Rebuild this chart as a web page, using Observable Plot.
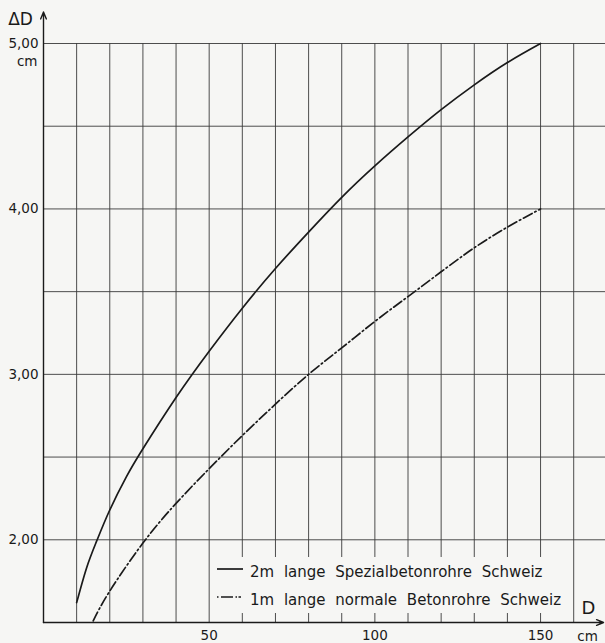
<!DOCTYPE html>
<html><head><meta charset="utf-8">
<script src="https://cdn.jsdelivr.net/npm/d3@7"></script>
<script src="https://cdn.jsdelivr.net/npm/@observablehq/plot@0.6"></script>
<style>
html,body{margin:0;padding:0;background:#f6f6f4;}
#wrap{position:relative;width:605px;height:643px;font-family:"DejaVu Sans",sans-serif;color:#1a1a1a;}
#legend{position:absolute;left:214px;top:557px;width:352px;height:56px;background:#f6f6f4;}
.row{position:absolute;left:3px;height:20px;display:flex;align-items:center;font-size:15px;word-spacing:5px;white-space:nowrap;}
.row svg{margin-right:7px;position:relative;top:-3px;}
</style></head><body><div id="wrap"></div>
<script>
// Series: 2 m Spezialbetonrohre (solid)
const solidD  = [10, 13, 16, 20, 25, 30, 40, 50, 60, 70, 80, 90, 100, 110, 120, 130, 140, 150];
const solidDD = [1.62, 1.83, 1.99, 2.18, 2.38, 2.55, 2.86, 3.14, 3.40, 3.64, 3.86, 4.07, 4.26, 4.435, 4.60, 4.75, 4.885, 5.00];
// Series: 1 m normale Betonrohre (dash-dot)
const dashD  = [15, 20, 30, 40, 50, 60, 70, 80, 90, 100, 110, 120, 130, 140, 150];
const dashDD = [1.51, 1.69, 1.98, 2.22, 2.43, 2.63, 2.82, 3.00, 3.16, 3.32, 3.47, 3.62, 3.765, 3.89, 4.00];

const seriesNames = ["2m lange Spezialbetonrohre Schweiz", "1m lange normale Betonrohre Schweiz"];

const xGrid = [10, 20, 30, 40, 50, 60, 70, 80, 90, 100, 110, 120, 130, 140, 150, 160];
const yGrid = [2.0, 2.5, 3.0, 3.5, 4.0, 4.5, 5.0];
const xTickValues = [50, 100, 150];
const xTickLabels = ["50", "100", "150"];
const yTickValues = [2, 3, 4, 5];
const yTickLabels = ["2,00", "3,00", "4,00", "5,00"];
const xDomain = [0, 169.6];
const yDomain = [1.5, 5.0];
const xAxisEnd = 169;
const yAxisTop = 5.19;

const solid = solidD.map((d, i) => ({D: d, dD: solidDD[i]}));
const dash = dashD.map((d, i) => ({D: d, dD: dashDD[i]}));
const ink = "#1a1a1a";
const dashPattern = "10,3,1.5,3";

const chart = Plot.plot({
  width: 605, height: 643,
  marginLeft: 43, marginRight: 0, marginTop: 43, marginBottom: 21,
  x: {domain: xDomain, axis: null},
  y: {domain: yDomain, axis: null},
  style: {background: "transparent", fontFamily: "DejaVu Sans, sans-serif", overflow: "visible", color: ink},
  marks: [
    Plot.ruleX(xGrid, {x: d => d, y1: yDomain[0], y2: yDomain[1], stroke: "#3a3a3a", strokeWidth: 0.9}),
    Plot.ruleY(yGrid, {y: d => d, stroke: "#3a3a3a", strokeWidth: 0.9}),
    Plot.line(solid, {x: "D", y: "dD", curve: "natural", stroke: ink, strokeWidth: 1.7}),
    Plot.line(dash, {x: "D", y: "dD", curve: "natural", stroke: ink, strokeWidth: 1.7, strokeDasharray: dashPattern}),
    Plot.arrow([{x1: 0, y1: yDomain[0], x2: 0, y2: yAxisTop}], {x1: "x1", y1: "y1", x2: "x2", y2: "y2", stroke: ink, strokeWidth: 1.4, headLength: 8, headAngle: 45}),
    Plot.arrow([{x1: 0, y1: yDomain[0], x2: xAxisEnd, y2: yDomain[0]}], {x1: "x1", y1: "y1", x2: "x2", y2: "y2", stroke: ink, strokeWidth: 1.4, headLength: 8, headAngle: 45}),
    Plot.text(yTickValues, {x: 0, y: d => d, text: (d, i) => yTickLabels[i], textAnchor: "end", lineAnchor: "middle", dx: -5, fontSize: 13.5, fill: ink}),
    Plot.text(["cm"], {x: 0, y: yDomain[1], text: d => d, textAnchor: "end", lineAnchor: "middle", dx: -6, dy: 18, fontSize: 13.5, fill: ink}),
    Plot.text(["ΔD"], {frameAnchor: "top-left", text: d => d, textAnchor: "middle", lineAnchor: "middle", dx: -23, dy: -24, fontSize: 17, fill: ink}),
    Plot.text(xTickValues, {x: d => d, y: yDomain[0], text: (d, i) => xTickLabels[i], textAnchor: "middle", lineAnchor: "middle", dy: 13, fontSize: 13.5, fill: ink}),
    Plot.text(["D"], {frameAnchor: "bottom-right", text: d => d, textAnchor: "middle", lineAnchor: "middle", dx: -17, dy: -14, fontSize: 18, fill: ink}),
    Plot.text(["cm"], {frameAnchor: "bottom-right", text: d => d, textAnchor: "middle", lineAnchor: "middle", dx: -18, dy: 14, fontSize: 13.5, fill: ink})
  ]
});
const wrap = document.getElementById("wrap");
wrap.appendChild(chart);

const legend = document.createElement("div");
legend.id = "legend";
const legendDash = [null, "1.5,2.5,12,2.5,1.5"];
const tops = [5, 33];
seriesNames.forEach((name, i) => {
  const row = document.createElement("div");
  row.className = "row";
  row.style.top = tops[i] + "px";
  row.innerHTML = `<svg width="26" height="10"><line x1="0" x2="26" y1="5" y2="5" stroke="${ink}" stroke-width="1.7" ${legendDash[i] ? `stroke-dasharray="${legendDash[i]}"` : ""}/></svg><span></span>`;
  row.querySelector("span").textContent = name;
  legend.appendChild(row);
});
wrap.appendChild(legend);
</script>
</body></html>
